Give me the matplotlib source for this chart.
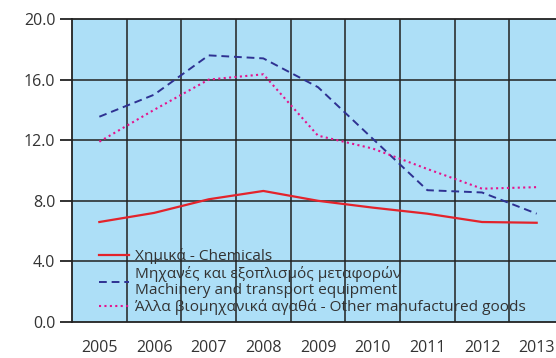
import matplotlib
matplotlib.use("Agg")
import matplotlib.pyplot as plt
from matplotlib.ticker import FixedLocator

plt.rcParams['font.family'] = ['Open Sans', 'DejaVu Sans']

years = ["2005", "2006", "2007", "2008", "2009", "2010", "2011", "2012", "2013"]
chemicals = [6.6, 7.2, 8.1, 8.65, 8.0, 7.55, 7.15, 6.6, 6.55]
machinery = [13.55, 15.0, 17.6, 17.4, 15.5, 12.1, 8.7, 8.55, 7.15]
other_goods = [11.9, 14.0, 16.0, 16.35, 12.3, 11.45, 10.1, 8.8, 8.9]
y_ticks = [0.0, 4.0, 8.0, 12.0, 16.0, 20.0]

labels = [
    "Χημικά - Chemicals",
    "Μηχανές και εξοπλισμός μεταφορών\nMachinery and transport equipment",
    "Άλλα βιομηχανικά αγαθά - Other manufactured goods",
]

fig = plt.figure(figsize=(5.56, 3.58), dpi=100)
ax = fig.add_axes([72 / 556, 1 - 322 / 358, (564 - 72) / 556, (322 - 19) / 358])
ax.set_facecolor('#addff7')

x = list(range(len(years)))
ax.plot(x, chemicals, color='#e3232b', lw=1.6, label=labels[0])
ax.plot(x, machinery, color='#2e3192', lw=1.4, ls=(0, (4, 2.5)), label=labels[1])
ax.plot(x, other_goods, color='#e5138c', lw=1.5, ls=(0, (1, 1.6)), label=labels[2])

ax.set_xlim(-0.5, len(years) - 0.5)
ax.set_ylim(0, 20)
ax.set_yticks(y_ticks)
ax.set_yticklabels([f"{v:.1f}" for v in y_ticks])
ax.set_xticks(x)
ax.set_xticklabels(years)
ax.xaxis.set_minor_locator(FixedLocator([i + 0.5 for i in range(-1, len(years))]))

grid_kw = dict(color='#222222', lw=1.3, alpha=0.85)
ax.grid(False)
for v in y_ticks[1:-1]:
    ax.axhline(v, **grid_kw, zorder=1)
for i in range(len(years) - 1):
    ax.axvline(i + 0.5, **grid_kw, zorder=1)

for side in ['left', 'bottom', 'top']:
    ax.spines[side].set_color('#222222')
    ax.spines[side].set_linewidth(1.3)
ax.spines['right'].set_visible(False)

ax.tick_params(axis='y', length=9, width=1.3, color='#222222', labelsize=11.5,
               labelcolor='#333333', pad=3)
ax.tick_params(axis='x', which='major', length=0, labelsize=11.5,
               labelcolor='#333333', pad=13)
ax.tick_params(axis='x', which='minor', length=0)

leg = ax.legend(loc='lower left', bbox_to_anchor=(0.033, -0.013), frameon=False,
                fontsize=11.1, handlelength=1.95, handletextpad=0.4,
                labelspacing=0.08, borderaxespad=0.3)
for t in leg.get_texts():
    t.set_color('#333333')
    t.set_linespacing(1.12)

fig.savefig("out.png", dpi=100)
